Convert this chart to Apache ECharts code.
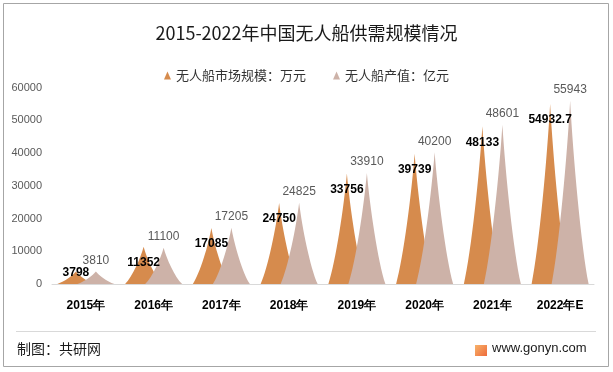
<!DOCTYPE html>
<html>
<head>
<meta charset="utf-8">
<script src="https://cdn.jsdelivr.net/npm/echarts@6/dist/echarts.min.js"></script>
<style>
html,body{margin:0;padding:0;background:#fff;}
#c{width:613px;height:372px;}
</style>
</head>
<body>
<div id="c"></div>
<script>
const categories = ['2015年','2016年','2017年','2018年','2019年','2020年','2021年','2022年E'];
const marketSize = [3798, 11352, 17085, 24750, 33756, 39739, 48133, 54932.7];
const outputValue = [3810, 11100, 17205, 24825, 33910, 40200, 48601, 55943];
const seriesNames = ['无人船市场规模：万元', '无人船产值：亿元'];
const yTicks = {min: 0, max: 60000, interval: 10000};

const peak = 'path://M0,10 C2,8 4.2,3 5,0 C5.8,3 8,8 10,10 z';
const cjk = '"Noto Sans CJK SC", "Liberation Sans", sans-serif';
const num = '"Liberation Sans", Arial, sans-serif';

const chart = echarts.init(document.getElementById('c'), null, {renderer: 'canvas'});

const orangeData = marketSize.map((v, i) => {
  if (i === 0) {
    return {value: v, label: {position: 'top', distance: -7}};
  }
  return v;
});

chart.setOption({
  animation: false,
  backgroundColor: '#fff',
  title: {
    text: '2015-2022年中国无人船供需规模情况',
    left: 'center',
    top: 19,
    textStyle: {fontFamily: cjk, fontSize: 18, fontWeight: 'normal', color: '#1a1a1a'}
  },
  legend: {
    top: 64,
    left: 'center',
    icon: 'triangle',
    itemWidth: 7,
    itemHeight: 8,
    itemGap: 27,
    textStyle: {fontFamily: cjk, fontSize: 13, color: '#333'},
    data: seriesNames
  },
  grid: {left: 52, right: 19, top: 87.5, bottom: 88, containLabel: false},
  xAxis: {
    type: 'category',
    data: categories,
    axisLine: {lineStyle: {color: '#d9d9d9'}},
    axisTick: {show: false},
    axisLabel: {fontFamily: num, fontSize: 12, fontWeight: 'bold', color: '#000', margin: 16}
  },
  yAxis: {
    type: 'value',
    min: yTicks.min, max: yTicks.max, interval: yTicks.interval,
    axisLine: {show: false},
    axisTick: {show: false},
    splitLine: {show: false},
    axisLabel: {fontFamily: num, fontSize: 11, color: '#595959', margin: 10, formatter: v => String(v)}
  },
  series: [
    {
      name: seriesNames[0],
      type: 'pictorialBar',
      symbol: peak,
      symbolSize: [37, '100%'],
      barWidth: 20,
      barGap: '0%',
      itemStyle: {color: '#D68B4D'},
      label: {
        show: true,
        position: 'insideTop',
        distance: 10,
        fontFamily: num,
        fontSize: 12,
        fontWeight: 'bold',
        color: '#000'
      },
      data: orangeData,
      z: 2
    },
    {
      name: seriesNames[1],
      type: 'pictorialBar',
      symbol: peak,
      symbolSize: [37, '100%'],
      barWidth: 20,
      barGap: '0%',
      itemStyle: {color: '#CDB2A8'},
      label: {
        show: true,
        position: 'top',
        distance: 5,
        fontFamily: num,
        fontSize: 12,
        color: '#595959'
      },
      data: outputValue,
      z: 2
    }
  ],
  graphic: [
    {type: 'rect', shape: {x: 3.5, y: 3.5, width: 605, height: 363}, style: {fill: 'none', stroke: '#a6a6a6', lineWidth: 1}, z: 100, silent: true},
    {type: 'line', shape: {x1: 16, y1: 331.5, x2: 596, y2: 331.5}, style: {stroke: '#d9d9d9', lineWidth: 1}, z: 100},
    {type: 'text', left: 17, top: 342, style: {text: '制图：共研网', fontFamily: cjk, fontSize: 14, fill: '#1a1a1a'}, z: 100},
    {type: 'rect', shape: {x: 475, y: 345, width: 12, height: 11}, style: {fill: new echarts.graphic.LinearGradient(0, 0, 1, 1, [{offset: 0, color: '#F7B26A'}, {offset: 1, color: '#EE6B3B'}])}, z: 100},
    {type: 'text', left: 492, top: 342, style: {text: 'www.gonyn.com', fontFamily: num, fontSize: 13, fill: '#1a1a1a'}, z: 100}
  ]
});
</script>
</body>
</html>
